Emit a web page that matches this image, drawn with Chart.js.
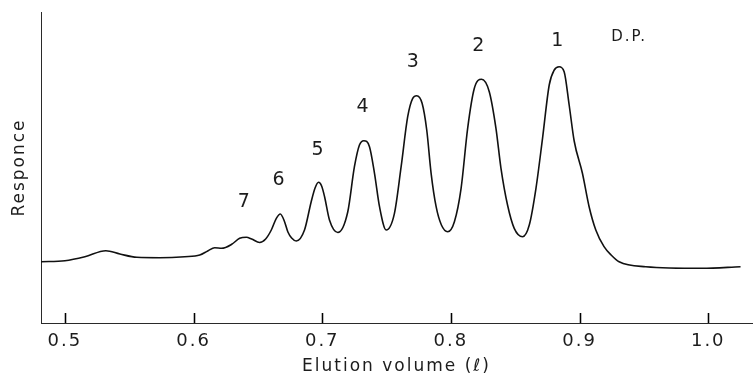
<!DOCTYPE html>
<html>
<head>
<meta charset="utf-8">
<script src="https://cdn.jsdelivr.net/npm/chart.js@4.4.1/dist/chart.umd.min.js"></script>
<style>
  html, body { margin: 0; padding: 0; background: #fff; }
  #wrap { width: 753px; height: 380px; position: relative; }
</style>
</head>
<body>
<div id="wrap"><canvas id="c" width="753" height="380"></canvas></div>
<script>
// Elution volume (l)
const elutionVolume = [
  0.4814, 0.5000, 0.5155, 0.5318, 0.5427, 0.5559, 0.5737, 0.5931, 0.6048, 0.6110,
  0.6164, 0.6218, 0.6296, 0.6358, 0.6410, 0.6451, 0.6513, 0.6560, 0.6604, 0.6643,
  0.6674, 0.6707, 0.6733, 0.6762, 0.6798, 0.6862, 0.6914, 0.6944, 0.6971, 0.6995,
  0.7018, 0.7056, 0.7121, 0.7198, 0.7250, 0.7289, 0.7323, 0.7367, 0.7406, 0.7445,
  0.7497, 0.7561, 0.7613, 0.7664, 0.7703, 0.7734, 0.7776, 0.7812, 0.7846, 0.7885,
  0.7926, 0.7975, 0.8027, 0.8079, 0.8130, 0.8182, 0.8238, 0.8298, 0.8350, 0.8389,
  0.8440, 0.8492, 0.8557, 0.8609, 0.8661, 0.8712, 0.8764, 0.8803, 0.8841, 0.8880,
  0.8919, 0.8958, 0.9022, 0.9074, 0.9126, 0.9190, 0.9245, 0.9307, 0.9514, 0.9951,
  1.0251
];
// Detector response (arbitrary units)
const response = [
  61.3, 62.3, 66.3, 72.3, 69.0, 65.7, 65.3, 66.3, 68.0, 72.0,
  75.3, 74.7, 78.7, 84.7, 85.7, 84.0, 80.5, 84.0, 93.0, 104.7,
  109.0, 101.3, 91.0, 85.0, 82.0, 93.0, 121.3, 135.0, 140.7, 137.0,
  126.3, 103.0, 90.5, 111.0, 156.3, 178.0, 182.3, 176.3, 149.7, 116.3,
  93.0, 109.7, 156.3, 206.3, 224.7, 227.3, 219.7, 193.0, 149.7, 116.3,
  98.0, 91.3, 101.3, 134.7, 194.7, 234.7, 243.7, 231.3, 194.7, 154.7,
  118.0, 94.7, 86.3, 98.0, 134.7, 184.7, 238.0, 253.0, 256.3, 251.3,
  218.0, 182.0, 149.7, 116.3, 93.0, 76.3, 68.0, 61.3, 56.3, 54.7,
  56.3
];
const xTickValues = [0.5, 0.6, 0.7, 0.8, 0.9, 1.0];
// Degree-of-polymerisation labels over the peaks
const peakLabels = ['7', '6', '5', '4', '3', '2', '1'];
const peakLabelX = [0.6397, 0.6668, 0.6971, 0.7320, 0.7711, 0.8220, 0.8834];
const peakLabelY = [121, 143, 173, 215.5, 260.5, 277.2, 282.2];
const dpLabel = 'D.P.';
const dpLabelX = 0.9385;
const dpLabelY = 286;

const points = elutionVolume.map((v, i) => ({ x: v, y: response[i] }));
const FONT = '"DejaVu Sans", sans-serif';
const INK = '#1c1c1c';

const letterSpacingPlugin = {
  id: 'letterSpacing',
  beforeDraw(chart) { chart.ctx.letterSpacing = '2px'; }
};

function drawInnerTicks(chart) {
  const ctx = chart.ctx, xs = chart.scales.x, area = chart.chartArea;
  ctx.save();
  ctx.setLineDash([]);
  ctx.globalAlpha = 1;
  ctx.strokeStyle = '#000';
  ctx.lineWidth = 1.3;
  ctx.beginPath();
  xTickValues.forEach(v => {
    const px = Math.round(xs.getPixelForValue(v)) + 0.5;
    ctx.moveTo(px, area.bottom);
    ctx.lineTo(px, area.bottom - 10);
  });
  ctx.stroke();
  ctx.restore();
}

const overlayPlugin = {
  id: 'overlay',
  afterDatasetsDraw(chart) {
    const ctx = chart.ctx, xs = chart.scales.x, ys = chart.scales.y;
    ctx.save();
    ctx.fillStyle = INK;
    ctx.textAlign = 'center';
    ctx.textBaseline = 'middle';
    ctx.font = '19px ' + FONT;
    peakLabels.forEach((t, i) => {
      ctx.fillText(t, xs.getPixelForValue(peakLabelX[i]), ys.getPixelForValue(peakLabelY[i]));
    });
    ctx.font = '15px ' + FONT;
    ctx.fillText(dpLabel, xs.getPixelForValue(dpLabelX), ys.getPixelForValue(dpLabelY));
    ctx.restore();
    drawInnerTicks(chart);
  },
  afterDraw(chart) {
    drawInnerTicks(chart);
  }
};

new Chart(document.getElementById('c'), {
  type: 'line',
  data: {
    datasets: [{
      data: points,
      borderColor: '#111',
      borderWidth: 1.6,
      pointRadius: 0,
      fill: false,
      cubicInterpolationMode: 'monotone'
    }]
  },
  options: {
    responsive: false,
    animation: false,
    events: [],
    layout: { padding: { top: 12, right: 1, left: 0, bottom: 0 } },
    plugins: { legend: { display: false }, tooltip: { enabled: false } },
    scales: {
      x: {
        type: 'linear',
        min: 0.4814,
        max: 1.034,
        afterFit(s) { s.height = 57; },
        afterBuildTicks(s) { s.ticks = xTickValues.map(v => ({ value: v })); },
        grid: { display: false, drawTicks: false },
        border: { display: true, color: '#2a2a2a', width: 1 },
        ticks: {
          padding: 8,
          color: INK,
          font: { family: FONT, size: 18 },
          maxRotation: 0,
          callback: v => Number(v).toFixed(1)
        },
        title: {
          display: true,
          text: 'Elution volume (ℓ)',
          color: INK,
          font: { family: FONT, size: 17 },
          padding: { top: 0, bottom: 3 }
        }
      },
      y: {
        min: 0,
        max: 311,
        afterFit(s) { s.width = 41; },
        grid: { display: false, drawTicks: false },
        border: { display: true, color: '#2a2a2a', width: 1 },
        ticks: { display: false },
        title: {
          display: true,
          text: 'Responce',
          color: INK,
          font: { family: FONT, size: 17 },
          padding: { top: 9, bottom: 0 }
        }
      }
    }
  },
  plugins: [letterSpacingPlugin, overlayPlugin]
});
</script>
</body>
</html>
